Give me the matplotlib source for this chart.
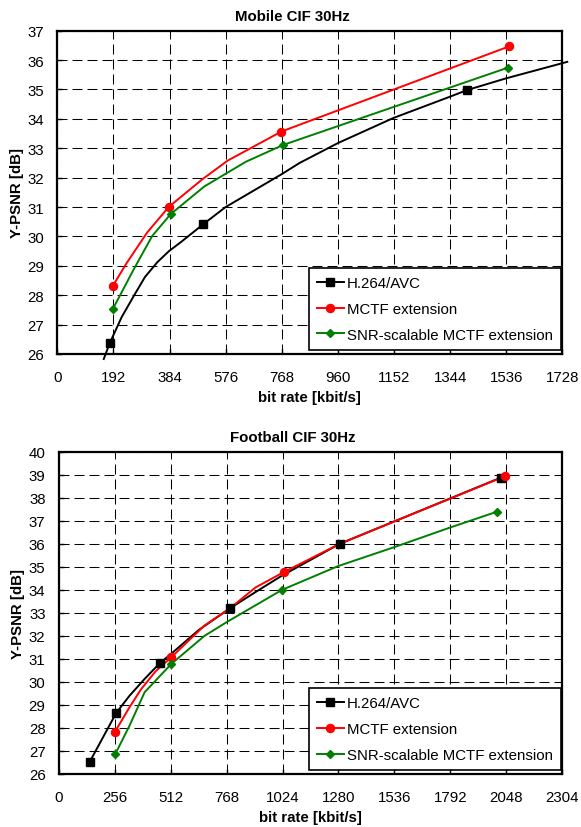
import matplotlib
matplotlib.use("Agg")
import matplotlib.pyplot as plt

plt.rcParams['font.family'] = ['Liberation Sans', 'DejaVu Sans']
plt.rcParams['lines.scale_dashes'] = False

# ---------------- Mobile CIF 30Hz ----------------
mob_xticks = [0, 192, 384, 576, 768, 960, 1152, 1344, 1536, 1728]
mob_yticks = list(range(26, 38))

mob_h264_curve_x = [159, 179, 220, 262, 300, 342, 382, 422, 500, 576, 768, 829, 961, 1150, 1345, 1402, 1536, 1745]
mob_h264_curve_y = [25.83, 26.36, 27.25, 27.98, 28.62, 29.12, 29.50, 29.80, 30.42, 31.00, 32.12, 32.50, 33.18, 34.03, 34.76, 34.98, 35.38, 35.94]
mob_h264_mark_x = [179, 500, 1402]
mob_h264_mark_y = [26.36, 30.42, 34.98]

mob_mctf_curve_x = [190, 239, 308, 382, 497, 583, 767, 1547]
mob_mctf_curve_y = [28.32, 29.12, 30.14, 31.01, 31.95, 32.58, 33.57, 36.47]
mob_mctf_mark_x = [190, 382, 767, 1547]
mob_mctf_mark_y = [28.32, 31.01, 33.57, 36.47]

mob_snr_curve_x = [190, 262, 325, 388, 503, 645, 772, 1541]
mob_snr_curve_y = [27.53, 28.89, 30.02, 30.76, 31.70, 32.54, 33.11, 35.74]
mob_snr_mark_x = [190, 388, 772, 1541]
mob_snr_mark_y = [27.53, 30.76, 33.11, 35.74]

# ---------------- Football CIF 30Hz ----------------
fb_xticks = [0, 256, 512, 768, 1024, 1280, 1536, 1792, 2048, 2304]
fb_yticks = list(range(26, 41))

fb_h264_curve_x = [142, 263, 324, 393, 462, 512, 640, 784, 900, 1022, 1286, 2022]
fb_h264_curve_y = [26.53, 28.65, 29.40, 30.13, 30.81, 31.20, 32.25, 33.20, 33.90, 34.62, 36.00, 38.87]
fb_h264_mark_x = [142, 263, 462, 784, 1286, 2022]
fb_h264_mark_y = [26.53, 28.65, 30.81, 33.20, 36.00, 38.87]

fb_mctf_curve_x = [256, 324, 376, 444, 515, 667, 784, 900, 1030, 1286, 2043]
fb_mctf_curve_y = [27.81, 28.90, 29.67, 30.47, 31.07, 32.45, 33.20, 34.10, 34.77, 36.00, 38.94]
fb_mctf_mark_x = [256, 515, 1030, 2043]
fb_mctf_mark_y = [27.81, 31.07, 34.77, 38.94]

fb_snr_curve_x = [259, 324, 393, 515, 667, 769, 1022, 1278, 1537, 1789, 2007]
fb_snr_curve_y = [26.87, 28.10, 29.55, 30.78, 32.00, 32.60, 34.00, 35.03, 35.86, 36.70, 37.40]
fb_snr_mark_x = [259, 515, 1022, 2007]
fb_snr_mark_y = [26.87, 30.78, 34.00, 37.40]

series_names = ['H.264/AVC', 'MCTF extension', 'SNR-scalable MCTF extension']
series_colors = ['black', '#ff0000', '#008000']
series_markers = ['s', 'o', 'D']
series_msizes = [5.3, 5.8, 4.3]

FS = 10.8

fig = plt.figure(figsize=(5.81, 8.28), dpi=100)
ax1 = fig.add_axes([57.3 / 581, 1 - 355 / 828, 505 / 581, 323.3 / 828])
ax2 = fig.add_axes([58.7 / 581, 1 - 775 / 828, 503.6 / 581, 322.3 / 828])


def draw(ax, title, xticks, yticks, curves, marks):
    for (cx, cy), (mx, my), name, col, mk, ms in zip(curves, marks, series_names,
                                                     series_colors, series_markers, series_msizes):
        ax.plot(cx, cy, color=col, lw=1.4, clip_on=False, zorder=3)
        ax.plot(mx, my, linestyle='none', marker=mk, ms=ms, color=col, clip_on=False, zorder=4)
        ax.plot([], [], color=col, lw=1.4, marker=mk, ms=ms, label=name)
    ax.set_xlim(xticks[0], xticks[-1])
    ax.set_ylim(yticks[0], yticks[-1])
    ax.set_xticks(xticks)
    ax.set_yticks(yticks)
    ax.grid(True, color='black', lw=0.75, linestyle=(0, (7.2, 3.6)))
    ax.set_axisbelow(True)
    ax.tick_params(direction='in', length=3.6, width=1.0, labelsize=FS)
    ax.tick_params(axis='x', pad=11.5)
    ax.tick_params(axis='y', pad=9.5)
    for s in ax.spines.values():
        s.set_linewidth(1.6)
        s.set_zorder(5)
    ax.set_title(title, fontsize=FS, fontweight='bold', pad=8, x=0.465)
    ax.set_xlabel('bit rate [kbit/s]', fontsize=FS, fontweight='bold', labelpad=4.5)
    ax.set_ylabel('Y-PSNR [dB]', fontsize=FS, fontweight='bold', labelpad=2.5)
    leg = ax.legend(loc='lower right', bbox_to_anchor=(0.9975, 0.0124), borderaxespad=0,
                    fontsize=FS, frameon=True, fancybox=False, numpoints=1,
                    handlelength=1.8, handletextpad=0.2, borderpad=0.55, labelspacing=0.78,
                    edgecolor='black', framealpha=1)
    leg.get_frame().set_linewidth(1.2)
    leg.set_zorder(6)


draw(ax1, 'Mobile CIF 30Hz', mob_xticks, mob_yticks,
     [(mob_h264_curve_x, mob_h264_curve_y), (mob_mctf_curve_x, mob_mctf_curve_y), (mob_snr_curve_x, mob_snr_curve_y)],
     [(mob_h264_mark_x, mob_h264_mark_y), (mob_mctf_mark_x, mob_mctf_mark_y), (mob_snr_mark_x, mob_snr_mark_y)])
draw(ax2, 'Football CIF 30Hz', fb_xticks, fb_yticks,
     [(fb_h264_curve_x, fb_h264_curve_y), (fb_mctf_curve_x, fb_mctf_curve_y), (fb_snr_curve_x, fb_snr_curve_y)],
     [(fb_h264_mark_x, fb_h264_mark_y), (fb_mctf_mark_x, fb_mctf_mark_y), (fb_snr_mark_x, fb_snr_mark_y)])

fig.savefig('out.png', dpi=100)
